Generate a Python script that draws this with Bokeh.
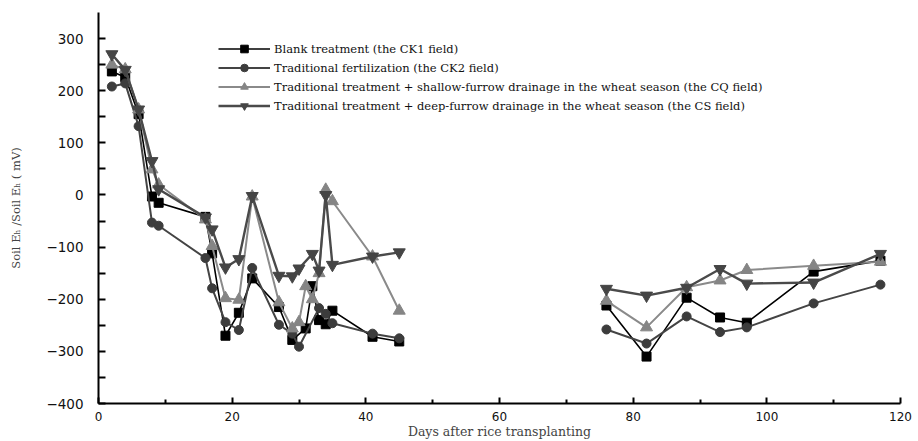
import numpy as np
from bokeh.plotting import figure
from bokeh.models import FixedTicker, Legend, LegendItem, ColumnDataSource, Range1d
from bokeh.embed import file_html
from bokeh.resources import INLINE

# Sampling days after rice transplanting: rice season and wheat season
ck1_days = [2, 4, 6, 8, 9, 16, 17, 19, 21, 23, 27, 29, 31, 32, 33, 34, 35, 41, 45]
ck1_vals = [237, 226, 155, -3, -15, -42, -112, -270, -226, -160, -215, -278, -256, -175, -240, -248, -222, -272, -281]
ck1_days2 = [76, 82, 88, 93, 97, 107, 117]
ck1_vals2 = [-212, -310, -197, -235, -245, -147, -126]

ck2_days = [2, 4, 6, 8, 9, 16, 17, 19, 21, 23, 27, 29, 30, 33, 34, 35, 41, 45]
ck2_vals = [208, 214, 132, -53, -59, -121, -179, -244, -259, -140, -249, -266, -291, -217, -228, -246, -266, -275]
ck2_days2 = [76, 82, 88, 93, 97, 107, 117]
ck2_vals2 = [-258, -285, -233, -263, -254, -208, -172]

cq_days = [2, 4, 6, 8, 9, 16, 17, 19, 21, 23, 27, 29, 30, 31, 32, 33, 34, 35, 41, 45]
cq_vals = [250, 241, 164, 49, 20, -47, -98, -198, -201, -3, -206, -256, -244, -175, -200, -150, 10, -12, -118, -222]
cq_days2 = [76, 82, 88, 93, 97, 107, 117]
cq_vals2 = [-203, -254, -177, -164, -144, -136, -128]

cs_days = [2, 4, 6, 8, 9, 16, 17, 19, 21, 23, 27, 29, 30, 32, 33, 34, 35, 41, 45]
cs_vals = [270, 240, 164, 65, 11, -43, -66, -139, -123, -2, -155, -156, -141, -113, -145, 0, -134, -118, -110]
cs_days2 = [76, 82, 88, 93, 97, 107, 117]
cs_vals2 = [-180, -193, -178, -142, -170, -168, -113]

labels = [
    "Blank treatment (the CK1 field)",
    "Traditional fertilization (the CK2 field)",
    "Traditional treatment + shallow-furrow drainage in the wheat season (the CQ field)",
    "Traditional treatment + deep-furrow drainage in the wheat season (the CS field)",
]

x_ticks = [0, 20, 40, 60, 80, 100, 120]
y_ticks = [-400, -300, -200, -100, 0, 100, 200, 300]

p = figure(width=918, height=441, output_backend="svg", toolbar_location=None,
           x_range=Range1d(0, 120), y_range=Range1d(-400, 350),
           min_border_left=98, min_border_right=18, min_border_top=12, min_border_bottom=38)
p.outline_line_color = None
p.xgrid.grid_line_color = None
p.ygrid.grid_line_color = None
p.background_fill_color = "white"

styles = [
    dict(color="#000000", lw=1.6, marker="square", size=9, fill="#000000"),
    dict(color="#444444", lw=2.0, marker="circle", size=9, fill="#3c3c3c"),
    dict(color="#8a8a8a", lw=2.0, marker="triangle", size=12, fill="#858585"),
    dict(color="#4a4a4a", lw=2.4, marker="inverted_triangle", size=12, fill="#454545"),
]
series = [
    (ck1_days, ck1_vals, ck1_days2, ck1_vals2),
    (ck2_days, ck2_vals, ck2_days2, ck2_vals2),
    (cq_days, cq_vals, cq_days2, cq_vals2),
    (cs_days, cs_vals, cs_days2, cs_vals2),
]

items = []
for (d1, v1, d2, v2), st, lab in zip(series, styles, labels):
    # a NaN between the two seasons breaks the line
    xs = list(d1) + [np.nan] + list(d2)
    ys = list(v1) + [np.nan] + list(v2)
    src = ColumnDataSource(dict(x=xs, y=ys))
    ln = p.line("x", "y", source=src, line_color=st["color"], line_width=st["lw"])
    sc = p.scatter("x", "y", source=src, marker=st["marker"], size=st["size"],
                   fill_color=st["fill"], line_color=st["fill"], line_width=1)
    items.append(LegendItem(label=lab, renderers=[ln, sc]))

legend = Legend(items=items, location=(120, 288), orientation="vertical",
                glyph_width=52, glyph_height=19, spacing=0, padding=0, margin=0,
                label_standoff=4, label_text_font="DejaVu Serif",
                label_text_font_size="11.5px", label_text_color="#111111",
                border_line_color=None, background_fill_alpha=0)
p.add_layout(legend, "center")

# axes
xa = p.xaxis[0]
xa.ticker = FixedTicker(ticks=x_ticks, minor_ticks=[10, 30, 50, 70, 90, 110])
xa.axis_line_width = 2
xa.axis_line_color = "black"
xa.major_tick_in = 6
xa.major_tick_out = 0
xa.minor_tick_in = 4
xa.minor_tick_out = 0
xa.major_tick_line_width = 2
xa.minor_tick_line_width = 2
xa.major_label_standoff = 8
xa.major_label_text_font = "DejaVu Sans"
xa.major_label_text_font_size = "12px"
xa.major_label_text_color = "#111111"
xa.axis_label = "Days after rice transplanting"
xa.axis_label_text_font = "DejaVu Serif"
xa.axis_label_text_font_size = "12.5px"
xa.axis_label_text_font_style = "normal"
xa.axis_label_standoff = 0

ya = p.yaxis[0]
ya.ticker = FixedTicker(ticks=y_ticks, minor_ticks=[-350, -250, -150, -50, 50, 150, 250])
ya.axis_line_width = 2
ya.axis_line_color = "black"
ya.major_tick_in = 7
ya.major_tick_out = 0
ya.minor_tick_in = 7
ya.minor_tick_out = 0
ya.major_tick_line_width = 2
ya.minor_tick_line_width = 2
ya.major_label_standoff = 15
ya.major_label_text_font = "DejaVu Sans"
ya.major_label_text_font_size = "13.5px"
ya.major_label_text_color = "#111111"
ya.axis_label = "Soil E\u2095 /Soil E\u2095 ( mV)"
ya.axis_label_text_font = "DejaVu Serif"
ya.axis_label_text_font_size = "11.5px"
ya.axis_label_text_font_style = "normal"
ya.axis_label_standoff = 20

open("out.html", "w").write(file_html(p, INLINE))
